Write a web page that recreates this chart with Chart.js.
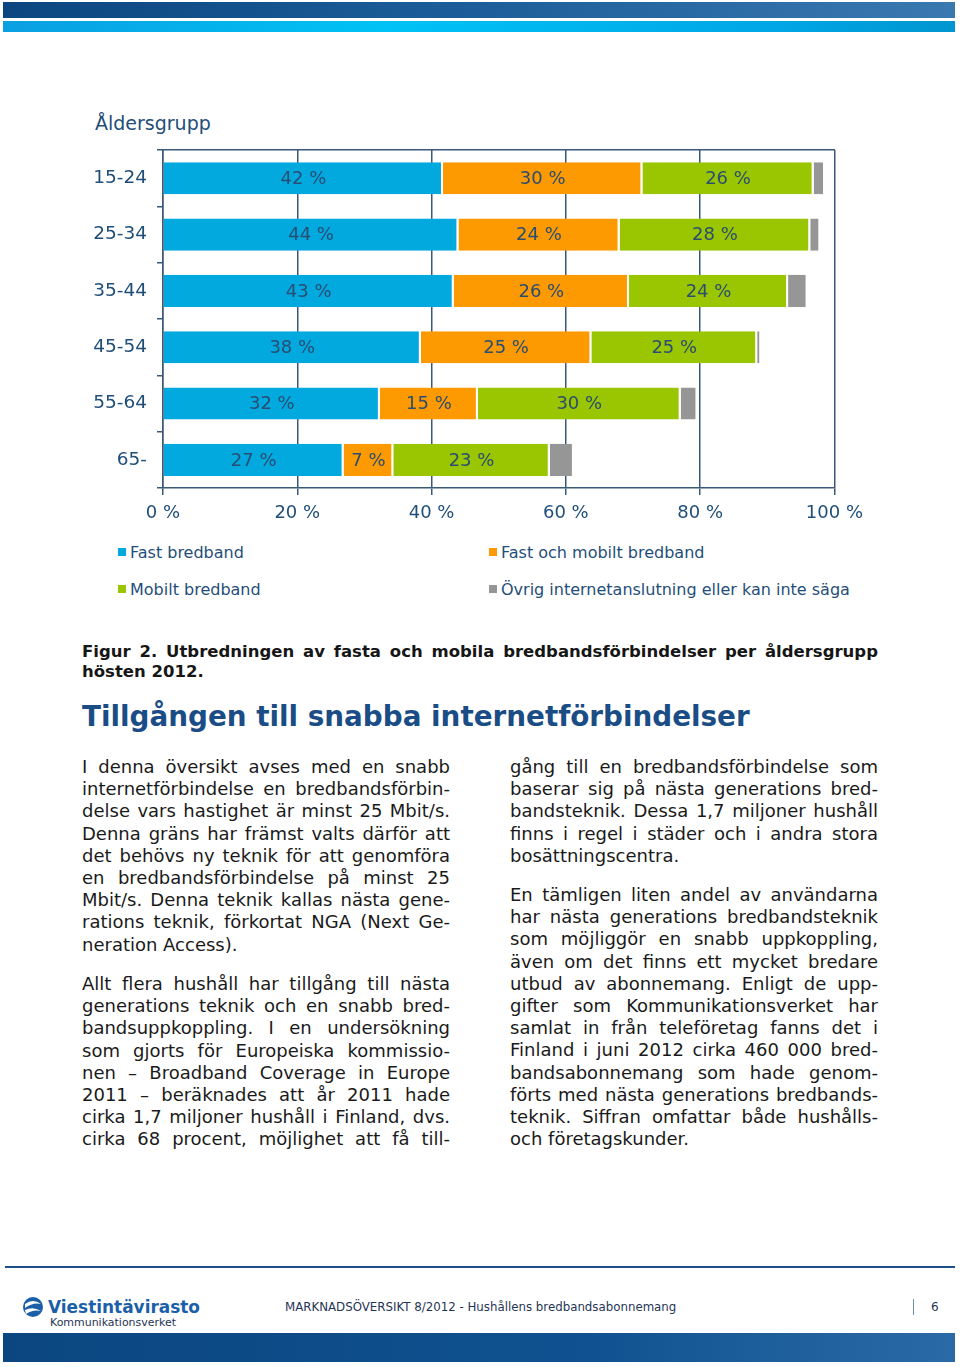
<!DOCTYPE html>
<html>
<head>
<meta charset="utf-8">
<script src="https://cdn.jsdelivr.net/npm/chart.js@4.4.0/dist/chart.umd.min.js"></script>
<style>
  html, body { margin: 0; padding: 0; background: #fff; }
  body { width: 960px; height: 1367px; position: relative; overflow: hidden; font-family: "DejaVu Sans", Verdana, sans-serif; }
  .abs { position: absolute; }
  #topbar1 { left: 3px; top: 2px; width: 952px; height: 16px; background: linear-gradient(to right, #0b4680, #1d5e9a 50%, #3a78b0); }
  #topbar2 { left: 3px; top: 21px; width: 952px; height: 11px; background: linear-gradient(to right, #0a9fe0, #00c2f5 40%, #00a7e6 80%, #0096d0); }
  #ageTitle { left: 95px; top: 112px; font-size: 19px; color: #1f4e79; }
  #chartBox { left: 80px; top: 129px; width: 791px; height: 401px; }
  .legend { font-size: 16px; color: #1f4e79; display: flex; align-items: center; white-space: nowrap; }
  .legend span.sw { width: 8px; height: 8px; display: inline-block; margin-right: 4px; }
  .caption { left: 82px; width: 796px; top: 642px; font-size: 16.5px; font-weight: bold; color: #161616; line-height: 20px; }
  .just { text-align: justify; text-align-last: justify; }
  .heading { left: 82px; top: 699px; font-size: 27.8px; font-weight: bold; color: #1a4d86; line-height: 36px; white-space: nowrap; }
  .col { width: 368px; font-size: 18px; color: #1a1a1a; line-height: 22.2px; }
  .col div { white-space: nowrap; }
  .col div.just { white-space: normal; }
  #footline { left: 5px; top: 1266px; width: 950px; height: 2px; background: #1d4f86; }
  #footbar { left: 3px; top: 1333px; width: 952px; height: 29px; background: linear-gradient(to right, #0b4680, #0f5190 60%, #2a6aa6); }
  #foottext { left: 285px; top: 1300px; font-size: 11.8px; color: #1f3556; white-space: nowrap; }
  #pagesep { left: 913px; top: 1299px; width: 1px; height: 16px; background: #6f8fb0; }
  #pagenum { left: 931px; top: 1300px; font-size: 12px; color: #1f3556; }
  #logo { left: 22px; top: 1294px; }
</style>
</head>
<body>
<div id="topbar1" class="abs"></div>
<div id="topbar2" class="abs"></div>

<div id="ageTitle" class="abs">Åldersgrupp</div>
<div id="chartBox" class="abs"><canvas id="ageChart"></canvas></div>
<div id="legendBox"></div>

<div class="abs caption">
  <div class="just">Figur 2. Utbredningen av fasta och mobila bredbandsförbindelser per åldersgrupp</div>
  <div>hösten 2012.</div>
</div>

<div class="abs heading">Tillgången till snabba internetförbindelser</div>

<div class="abs col" style="left:82px; top:756px;">
  <div class="just">I denna översikt avses med en snabb</div>
  <div class="just">internetförbindelse en bredbandsförbin-</div>
  <div class="just">delse vars hastighet är minst 25 Mbit/s.</div>
  <div class="just">Denna gräns har främst valts därför att</div>
  <div class="just">det behövs ny teknik för att genomföra</div>
  <div class="just">en bredbandsförbindelse på minst 25</div>
  <div class="just">Mbit/s. Denna teknik kallas nästa gene-</div>
  <div class="just">rations teknik, förkortat NGA (Next Ge-</div>
  <div>neration Access).</div>
</div>
<div class="abs col" style="left:82px; top:973px;">
  <div class="just">Allt flera hushåll har tillgång till nästa</div>
  <div class="just">generations teknik och en snabb bred-</div>
  <div class="just">bandsuppkoppling. I en undersökning</div>
  <div class="just">som gjorts för Europeiska kommissio-</div>
  <div class="just">nen – Broadband Coverage in Europe</div>
  <div class="just">2011 – beräknades att år 2011 hade</div>
  <div class="just">cirka 1,7 miljoner hushåll i Finland, dvs.</div>
  <div class="just">cirka 68 procent, möjlighet att få till-</div>
</div>
<div class="abs col" style="left:510px; top:756px;">
  <div class="just">gång till en bredbandsförbindelse som</div>
  <div class="just">baserar sig på nästa generations bred-</div>
  <div class="just">bandsteknik. Dessa 1,7 miljoner hushåll</div>
  <div class="just">finns i regel i städer och i andra stora</div>
  <div>bosättningscentra.</div>
</div>
<div class="abs col" style="left:510px; top:884px;">
  <div class="just">En tämligen liten andel av användarna</div>
  <div class="just">har nästa generations bredbandsteknik</div>
  <div class="just">som möjliggör en snabb uppkoppling,</div>
  <div class="just">även om det finns ett mycket bredare</div>
  <div class="just">utbud av abonnemang. Enligt de upp-</div>
  <div class="just">gifter som Kommunikationsverket har</div>
  <div class="just">samlat in från teleföretag fanns det i</div>
  <div class="just">Finland i juni 2012 cirka 460 000 bred-</div>
  <div class="just">bandsabonnemang som hade genom-</div>
  <div class="just">förts med nästa generations bredbands-</div>
  <div class="just">teknik. Siffran omfattar både hushålls-</div>
  <div>och företagskunder.</div>
</div>

<div id="footline" class="abs"></div>
<div id="logo" class="abs">
  <svg width="190" height="36" viewBox="0 0 190 36">
    <circle cx="11" cy="13" r="10" fill="#1a5fa8"/>
    <path d="M3 10 Q11 4 19 10 Q11 8 3 14 Z" fill="#fff"/>
    <path d="M3 16 Q11 12 19 17 Q11 15 4 20 Z" fill="#fff"/>
    <text x="26" y="19" font-family="DejaVu Sans" font-weight="bold" font-size="18" fill="#1a5fa8" textLength="152" lengthAdjust="spacingAndGlyphs">Viestintävirasto</text>
    <text x="28" y="32" font-family="DejaVu Sans" font-size="11" fill="#1f3556" textLength="126" lengthAdjust="spacingAndGlyphs">Kommunikationsverket</text>
  </svg>
</div>
<div id="foottext" class="abs">MARKNADSÖVERSIKT 8/2012 - Hushållens bredbandsabonnemang</div>
<div id="pagesep" class="abs"></div>
<div id="pagenum" class="abs">6</div>
<div id="footbar" class="abs"></div>

<script>
// age groups and shares (%)
const ageGroups = ["15-24", "25-34", "35-44", "45-54", "55-64", "65-"];
const fastBroadband = [41.7, 44.0, 43.3, 38.4, 32.3, 26.9];
const fastAndMobile = [29.7, 24.0, 26.1, 25.4, 14.6, 7.4];
const mobileBroadband = [25.5, 28.4, 23.7, 24.7, 30.2, 23.3];
const otherOrUnknown = [1.7, 1.5, 2.9, 0.6, 2.5, 3.6];

const seriesNames = ["Fast bredband", "Fast och mobilt bredband", "Mobilt bredband", "Övrig internetanslutning eller kan inte säga"];
const seriesColors = ["#02a9de", "#fd9a02", "#9ac501", "#969696"];
const xTicks = [0, 20, 40, 60, 80, 100];

const axisBlue = "#3a5878";
const textBlue = "#1f4e79";

// simple HTML legend, two columns
const legendPos = [[118, 552], [489, 552], [118, 589], [489, 589]];
const legendBox = document.getElementById("legendBox");
seriesNames.forEach((name, i) => {
  const el = document.createElement("div");
  el.className = "abs legend";
  el.style.left = legendPos[i][0] + "px";
  el.style.top = (legendPos[i][1] - 10) + "px";
  el.style.height = "20px";
  el.innerHTML = '<span class="sw" style="background:' + seriesColors[i] + '"></span>' + name;
  legendBox.appendChild(el);
});

// labels in the middle of the first three segments
const barLabels = {
  id: "barLabels",
  afterDatasetsDraw(chart) {
    const ctx = chart.ctx;
    ctx.save();
    ctx.font = '18px "DejaVu Sans", Verdana, sans-serif';
    ctx.fillStyle = "#2a4d73";
    ctx.textAlign = "center";
    ctx.textBaseline = "middle";
    chart.data.datasets.forEach((ds, di) => {
      if (di > 2) return;
      chart.getDatasetMeta(di).data.forEach((bar, i) => {
        const left = Math.min(bar.x, bar.base);
        const right = Math.max(bar.x, bar.base);
        ctx.fillText(Math.round(ds.data[i]) + " %", (left + right) / 2, bar.y + 1);
      });
    });
    ctx.restore();
  }
};

const allSeries = [fastBroadband, fastAndMobile, mobileBroadband, otherOrUnknown];

new Chart(document.getElementById("ageChart").getContext("2d"), {
  type: "bar",
  data: {
    labels: ageGroups,
    datasets: allSeries.map((values, i) => ({
      label: seriesNames[i],
      data: values,
      backgroundColor: seriesColors[i],
      borderColor: "#ffffff",
      borderWidth: { left: 0, top: 0, bottom: 0, right: 2 },
      borderSkipped: false,
      barPercentage: 0.57,
      categoryPercentage: 1.0,
    })),
  },
  options: {
    indexAxis: "y",
    responsive: true,
    maintainAspectRatio: false,
    animation: false,
    layout: { padding: { top: 0, right: 26, left: 0, bottom: 0 } },
    plugins: {
      legend: { display: false },
      tooltip: { enabled: false },
    },
    scales: {
      x: {
        stacked: true,
        min: 0,
        max: 100,
        afterBuildTicks: (scale) => { scale.ticks = xTicks.map((v) => ({ value: v })); },
        afterFit: (scale) => { scale.height = 42; },
        ticks: {
          callback: (v) => v + " %",
          color: textBlue,
          font: { family: '"DejaVu Sans", Verdana, sans-serif', size: 18 },
          padding: 8,
          maxRotation: 0,
        },
        grid: { color: axisBlue, lineWidth: 1.5, tickLength: 7, drawTicks: true },
        border: { color: axisBlue, width: 1.5 },
      },
      xTop: {
        position: "top",
        min: 0,
        max: 100,
        ticks: { display: false },
        grid: { display: false, drawTicks: false },
        border: { display: true, color: axisBlue, width: 1.5 },
        afterFit: (scale) => { scale.height = 0; },
      },
      y: {
        stacked: true,
        afterFit: (scale) => { scale.width = 83; },
        ticks: {
          color: textBlue,
          font: { family: '"DejaVu Sans", Verdana, sans-serif', size: 18.5 },
          padding: 10,
        },
        grid: { offset: true, drawOnChartArea: false, color: axisBlue, lineWidth: 1.5, tickLength: 6 },
        border: { color: axisBlue, width: 1.5 },
      },
    },
  },
  plugins: [barLabels],
});
</script>
</body>
</html>
